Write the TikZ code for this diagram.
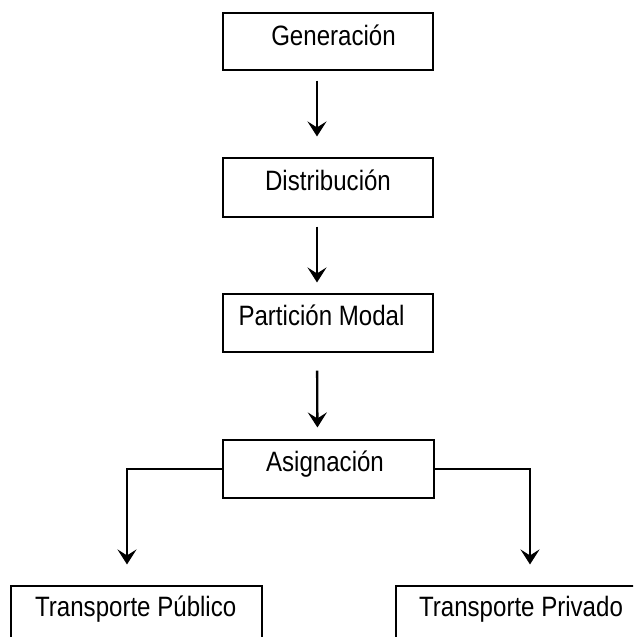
\documentclass[tikz,border=0pt]{standalone}
\usepackage{fontspec}
\setmainfont{Liberation Sans}[FakeStretch=0.86]
\usetikzlibrary{arrows.meta}
\tikzset{
  box/.style={draw=black, line width=1.1pt, rectangle, minimum width=210pt, inner sep=0pt},
  lbl/.style={anchor=base, inner sep=0pt, font=\fontsize{28}{30}\selectfont},
  arr/.style={line width=2.3pt, -{Stealth[length=15pt, width=19pt, inset=6pt]}},
}
\begin{document}
\begin{tikzpicture}[x=1pt, y=-1pt]
\clip (0,0) rectangle (633,637);
\fill[white] (0,0) rectangle (633,637);
% boxes
\node[box, minimum height=57pt] (gen) at (328,41.5) {};
\node[box, minimum height=59pt] (dist) at (328,187.5) {};
\node[box, minimum height=58pt] (part) at (328,323) {};
\node[box, minimum height=58pt, minimum width=211pt] (asig) at (328.5,469) {};
\node[box, minimum height=58pt, minimum width=251pt] (pub) at (136.5,615) {};
\node[box, minimum height=58pt, minimum width=251pt] (priv) at (521.5,615) {};
% labels
\node[lbl] (tgen) at (333.5,45) {Generación};
\node[lbl] (tdist) at (328,190) {Distribución};
\node[lbl] (tpart) at (321.5,325) {Partición Modal};
\node[lbl] (tasig) at (325,471.7) {Asignación};
\node[lbl] (tpub) at (135.7,616.7) {Transporte Público};
\node[lbl] (tpriv) at (521,616.7) {Transporte Privado};
% arrows
\draw[arr, shorten <=10pt, shorten >=21pt] ([xshift=-11pt]gen.south) -- ([xshift=-11pt]dist.north);
\draw[arr, shorten <=9pt, shorten >=11pt] ([xshift=-11pt]dist.south) -- ([xshift=-11pt]part.north);
\draw[arr, shorten <=18pt, shorten >=12pt] ([xshift=-11pt]part.south) -- ([xshift=-11pt]asig.north);
\draw[arr] (asig.west) -| ([xshift=-9.5pt, yshift=21pt]pub.north);
\draw[arr] (asig.east) -| ([xshift=8.5pt, yshift=21pt]priv.north);
\end{tikzpicture}
\end{document}
